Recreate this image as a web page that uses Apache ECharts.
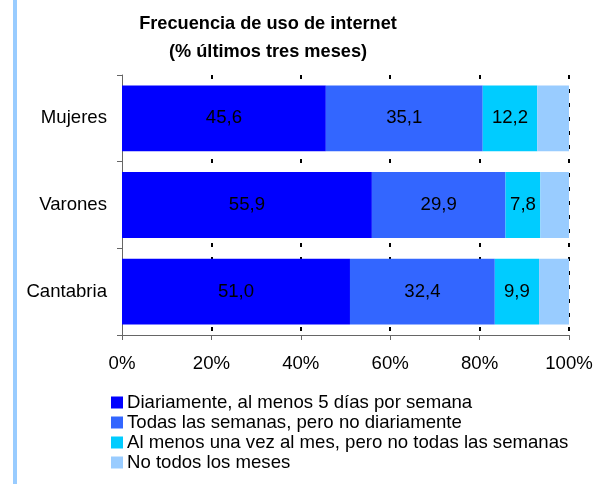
<!DOCTYPE html>
<html>
<head>
<meta charset="utf-8">
<script src="https://cdn.jsdelivr.net/npm/echarts@6/dist/echarts.min.js"></script>
<style>
  html, body { margin: 0; padding: 0; background: #fff; }
  #chart { width: 613px; height: 484px; }
</style>
</head>
<body>
<div id="chart"></div>
<script>
// grupos (de arriba abajo)
const categories = ['Mujeres', 'Varones', 'Cantabria'];
// frecuencia de uso, % ultimos tres meses
const diariamente = [45.6, 55.9, 51.0];
const todasSemanas = [35.1, 29.9, 32.4];
const unaVezMes = [12.2, 7.8, 9.9];
const noTodosMeses = [7.1, 6.4, 6.7];
const seriesNames = [
  'Diariamente, al menos 5 días por semana',
  'Todas las semanas, pero no diariamente',
  'Al menos una vez al mes, pero no todas las semanas',
  'No todos los meses'
];
const colors = ['#0000ff', '#3366ff', '#00ccff', '#99ccff'];

const font = '"Liberation Sans", Arial, sans-serif';
const fs = 18.6;
const chart = echarts.init(document.getElementById('chart'));

let makeSeries = (name, data, color, showLabel) => ({
  name: name,
  type: 'bar',
  stack: 'total',
  barCategoryGap: '24%',
  data: data,
  itemStyle: { color: color },
  label: {
    show: showLabel,
    position: 'inside',
    color: '#000',
    fontFamily: font,
    fontSize: fs,
    formatter: p => p.value.toFixed(1).replace('.', ',')
  }
});

let option = {
  backgroundColor: '#fff',
  animation: false,
  color: colors,
  title: {
    text: 'Frecuencia de uso de internet\n(% últimos tres meses)',
    left: 268,
    top: 10,
    padding: 0,
    textAlign: 'center',
    textStyle: {
      fontFamily: font,
      fontSize: 18.2,
      fontWeight: 'bold',
      color: '#000',
      lineHeight: 28
    }
  },
  graphic: [{
    type: 'rect',
    shape: { x: 13, y: 0, width: 4, height: 484 },
    style: { fill: '#99ccff' }
  }],
  legend: {
    orient: 'vertical',
    left: 111,
    top: 393,
    padding: 0,
    itemWidth: 12,
    itemHeight: 12,
    itemGap: 1,
    icon: 'rect',
    selectedMode: false,
    textStyle: { fontFamily: font, fontSize: fs, color: '#000', lineHeight: 18.6, padding: [0, 0, 0, -1] },
    data: seriesNames
  },
  grid: { left: 122, right: 44, top: 75, bottom: 149 },
  xAxis: {
    type: 'value',
    min: 0,
    max: 100,
    interval: 20,
    axisLine: { show: true, lineStyle: { color: '#666', width: 1 } },
    axisTick: { show: true, length: 5, lineStyle: { color: '#666' } },
    axisLabel: { formatter: '{value}%', fontFamily: font, fontSize: fs, color: '#000', margin: 19 },
    splitLine: {
      show: true,
      showMinLine: false,
      lineStyle: { color: '#000', width: 2, type: [4, 10] }
    }
  },
  yAxis: {
    type: 'category',
    inverse: true,
    data: categories,
    axisLine: { show: true, lineStyle: { color: '#666', width: 1 } },
    axisTick: { show: true, length: 5, lineStyle: { color: '#666' } },
    axisLabel: { fontFamily: font, fontSize: fs, color: '#000', margin: 15 }
  },
  series: [
    makeSeries(seriesNames[0], diariamente, colors[0], true),
    makeSeries(seriesNames[1], todasSemanas, colors[1], true),
    makeSeries(seriesNames[2], unaVezMes, colors[2], true),
    makeSeries(seriesNames[3], noTodosMeses, colors[3], false)
  ]
};

chart.setOption(option);
</script>
</body>
</html>
